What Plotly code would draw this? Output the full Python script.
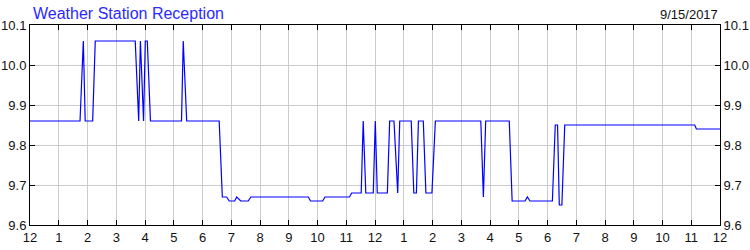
import plotly.graph_objects as go

# Time of day in hours (0 = midnight) and reception value
hours = [0.00, 1.74, 1.855, 1.92, 2.18, 2.27, 3.66, 3.78, 3.84, 3.95, 4.01, 4.08, 4.19,
         5.27, 5.33, 5.45, 6.58, 6.69, 6.84, 6.93, 7.12, 7.19, 7.33, 7.59, 7.68,
         9.68, 9.76, 10.18, 10.26, 11.11, 11.19, 11.52, 11.59, 11.68, 11.94, 12.01, 12.08,
         12.43, 12.51, 12.66, 12.79, 12.86, 13.26, 13.35, 13.44, 13.51, 13.68, 13.77, 13.98, 14.10,
         15.68, 15.77, 15.85, 16.67, 16.77, 17.22, 17.30, 17.39, 18.17, 18.27, 18.35, 18.41,
         18.50, 18.60, 23.12, 23.18, 24.00]
values = [9.86, 9.86, 10.06, 9.86, 9.86, 10.06, 10.06, 9.86, 10.06, 9.86, 10.06, 10.06, 9.86,
          9.86, 10.06, 9.86, 9.86, 9.67, 9.67, 9.66, 9.66, 9.67, 9.66, 9.66, 9.67,
          9.67, 9.66, 9.66, 9.67, 9.67, 9.68, 9.68, 9.86, 9.68, 9.68, 9.86, 9.68,
          9.68, 9.86, 9.86, 9.68, 9.86, 9.86, 9.68, 9.68, 9.86, 9.86, 9.68, 9.68, 9.86,
          9.86, 9.67, 9.86, 9.86, 9.66, 9.66, 9.67, 9.66, 9.66, 9.85, 9.85, 9.65,
          9.65, 9.85, 9.85, 9.84, 9.84]

x_tickvals = list(range(0, 25))
x_ticktext = ["12", "1", "2", "3", "4", "5", "6", "7", "8", "9", "10", "11",
              "12", "1", "2", "3", "4", "5", "6", "7", "8", "9", "10", "11", "12"]
y_tickvals = [9.6, 9.7, 9.8, 9.9, 10.0, 10.1]
y_range = [9.6, 10.1]

title_text = "Weather Station Reception"
date_text = "9/15/2017"

FONT = "Liberation Sans, Arial, sans-serif"

fig = go.Figure()
fig.add_trace(go.Scatter(x=hours, y=values, mode="lines",
                         line=dict(color="#0000ff", width=1.2),
                         hoverinfo="skip", showlegend=False))
fig.add_trace(go.Scatter(x=[], y=[], yaxis="y2", showlegend=False))

fig.update_layout(
    width=750, height=250,
    margin=dict(l=30, r=30, t=25, b=25, autoexpand=False),
    paper_bgcolor="white", plot_bgcolor="white",
    font=dict(family=FONT, size=13, color="#111111"),
    xaxis=dict(range=[0, 24], tickvals=x_tickvals, ticktext=x_ticktext,
               showgrid=True, gridcolor="#cccccc", gridwidth=1,
               showline=True, linecolor="black", linewidth=1, mirror="ticks",
               ticks="inside", ticklen=5, tickcolor="black",
               zeroline=False, fixedrange=True, automargin=False),
    yaxis=dict(range=y_range, tickvals=y_tickvals, tickformat=".1f",
               showgrid=True, gridcolor="#cccccc", gridwidth=1,
               showline=True, linecolor="black", linewidth=1,
               ticks="inside", ticklen=5, tickcolor="black",
               zeroline=False, fixedrange=True, automargin=False),
    yaxis2=dict(range=y_range, tickvals=y_tickvals, tickformat=".1f",
                overlaying="y", side="right", showgrid=False,
                showline=True, linecolor="black", linewidth=1,
                ticks="inside", ticklen=5, tickcolor="black",
                zeroline=False, fixedrange=True, automargin=False),
    annotations=[
        dict(text=title_text, xref="paper", yref="paper", x=0, y=1,
             xanchor="left", yanchor="bottom", xshift=1, yshift=1, showarrow=False,
             font=dict(family=FONT, size=16, color="#2a2aff")),
        dict(text=date_text, xref="paper", yref="paper", x=1, y=1,
             xanchor="right", yanchor="bottom", xshift=0, yshift=1, showarrow=False,
             font=dict(family=FONT, size=13, color="#111111")),
    ],
)

fig.write_html("out.html")
